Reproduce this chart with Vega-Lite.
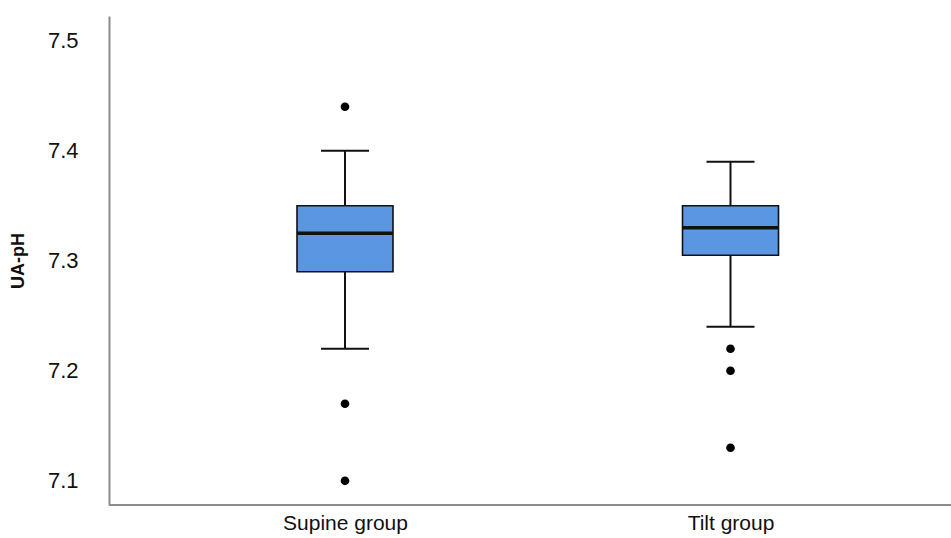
{
  "$schema": "https://vega.github.io/schema/vega-lite/v6.json",
  "autosize": {"type": "none"},
  "padding": {"left": 109, "top": 16, "right": 0, "bottom": 33},
  "width": 842,
  "height": 489,
  "background": "white",
  "config": {
    "view": {"stroke": null},
    "font": "Liberation Sans"
  },
  "datasets": {
    "box": [
      {"group": "Supine group", "lower": 7.22, "q1": 7.29, "median": 7.325, "q3": 7.35, "upper": 7.40},
      {"group": "Tilt group", "lower": 7.24, "q1": 7.305, "median": 7.33, "q3": 7.35, "upper": 7.39}
    ],
    "outliers": [
      {"group": "Supine group", "value": 7.44},
      {"group": "Supine group", "value": 7.17},
      {"group": "Supine group", "value": 7.10},
      {"group": "Tilt group", "value": 7.22},
      {"group": "Tilt group", "value": 7.20},
      {"group": "Tilt group", "value": 7.13}
    ],
    "baseline": [{"v": 7.078}]
  },
  "encoding": {
    "x": {
      "field": "group",
      "type": "nominal",
      "sort": ["Supine group", "Tilt group"],
      "scale": {"type": "point", "range": [236, 621.5], "padding": 0},
      "axis": {
        "title": null,
        "labelAngle": 0,
        "domain": false,
        "ticks": false,
        "labelFontSize": 21,
        "labelColor": "#111",
        "labelPadding": 7
      }
    }
  },
  "layer": [
    {
      "data": {"name": "baseline"},
      "mark": {"type": "rule", "color": "#8c8c8c", "strokeWidth": 2},
      "encoding": {
        "x": null,
        "y": {"field": "v", "type": "quantitative", "scale": {"domain": [7.078, 7.5225], "nice": false, "zero": false}}
      }
    },
    {
      "data": {"name": "box"},
      "mark": {"type": "rule", "color": "#111", "strokeWidth": 2},
      "encoding": {
        "y": {
          "field": "lower",
          "type": "quantitative",
          "scale": {"domain": [7.078, 7.5225], "nice": false, "zero": false},
          "axis": {
            "title": "UA-pH",
            "titleFontSize": 18,
            "titleFontWeight": "bold",
            "titleColor": "#111",
            "titlePadding": 20,
            "values": [7.1, 7.2, 7.3, 7.4, 7.5],
            "format": ".1f",
            "grid": false,
            "ticks": false,
            "domainColor": "#8c8c8c",
            "domainWidth": 2,
            "labelFontSize": 22,
            "labelColor": "#111",
            "labelPadding": 31
          }
        },
        "y2": {"field": "upper"}
      }
    },
    {
      "data": {"name": "box"},
      "mark": {"type": "bar", "size": 96, "fill": "#5a96e2", "stroke": "#111", "strokeWidth": 1.6},
      "encoding": {
        "y": {"field": "q1", "type": "quantitative"},
        "y2": {"field": "q3"}
      }
    },
    {
      "data": {"name": "box"},
      "mark": {"type": "tick", "size": 96, "thickness": 3.5, "color": "#111", "opacity": 1},
      "encoding": {
        "y": {"field": "median", "type": "quantitative"}
      }
    },
    {
      "data": {"name": "box"},
      "mark": {"type": "tick", "size": 48, "thickness": 2, "color": "#111", "opacity": 1},
      "encoding": {
        "y": {"field": "lower", "type": "quantitative"}
      }
    },
    {
      "data": {"name": "box"},
      "mark": {"type": "tick", "size": 48, "thickness": 2, "color": "#111", "opacity": 1},
      "encoding": {
        "y": {"field": "upper", "type": "quantitative"}
      }
    },
    {
      "data": {"name": "outliers"},
      "mark": {"type": "point", "filled": true, "size": 75, "color": "#000", "opacity": 1},
      "encoding": {
        "y": {"field": "value", "type": "quantitative"}
      }
    }
  ]
}
